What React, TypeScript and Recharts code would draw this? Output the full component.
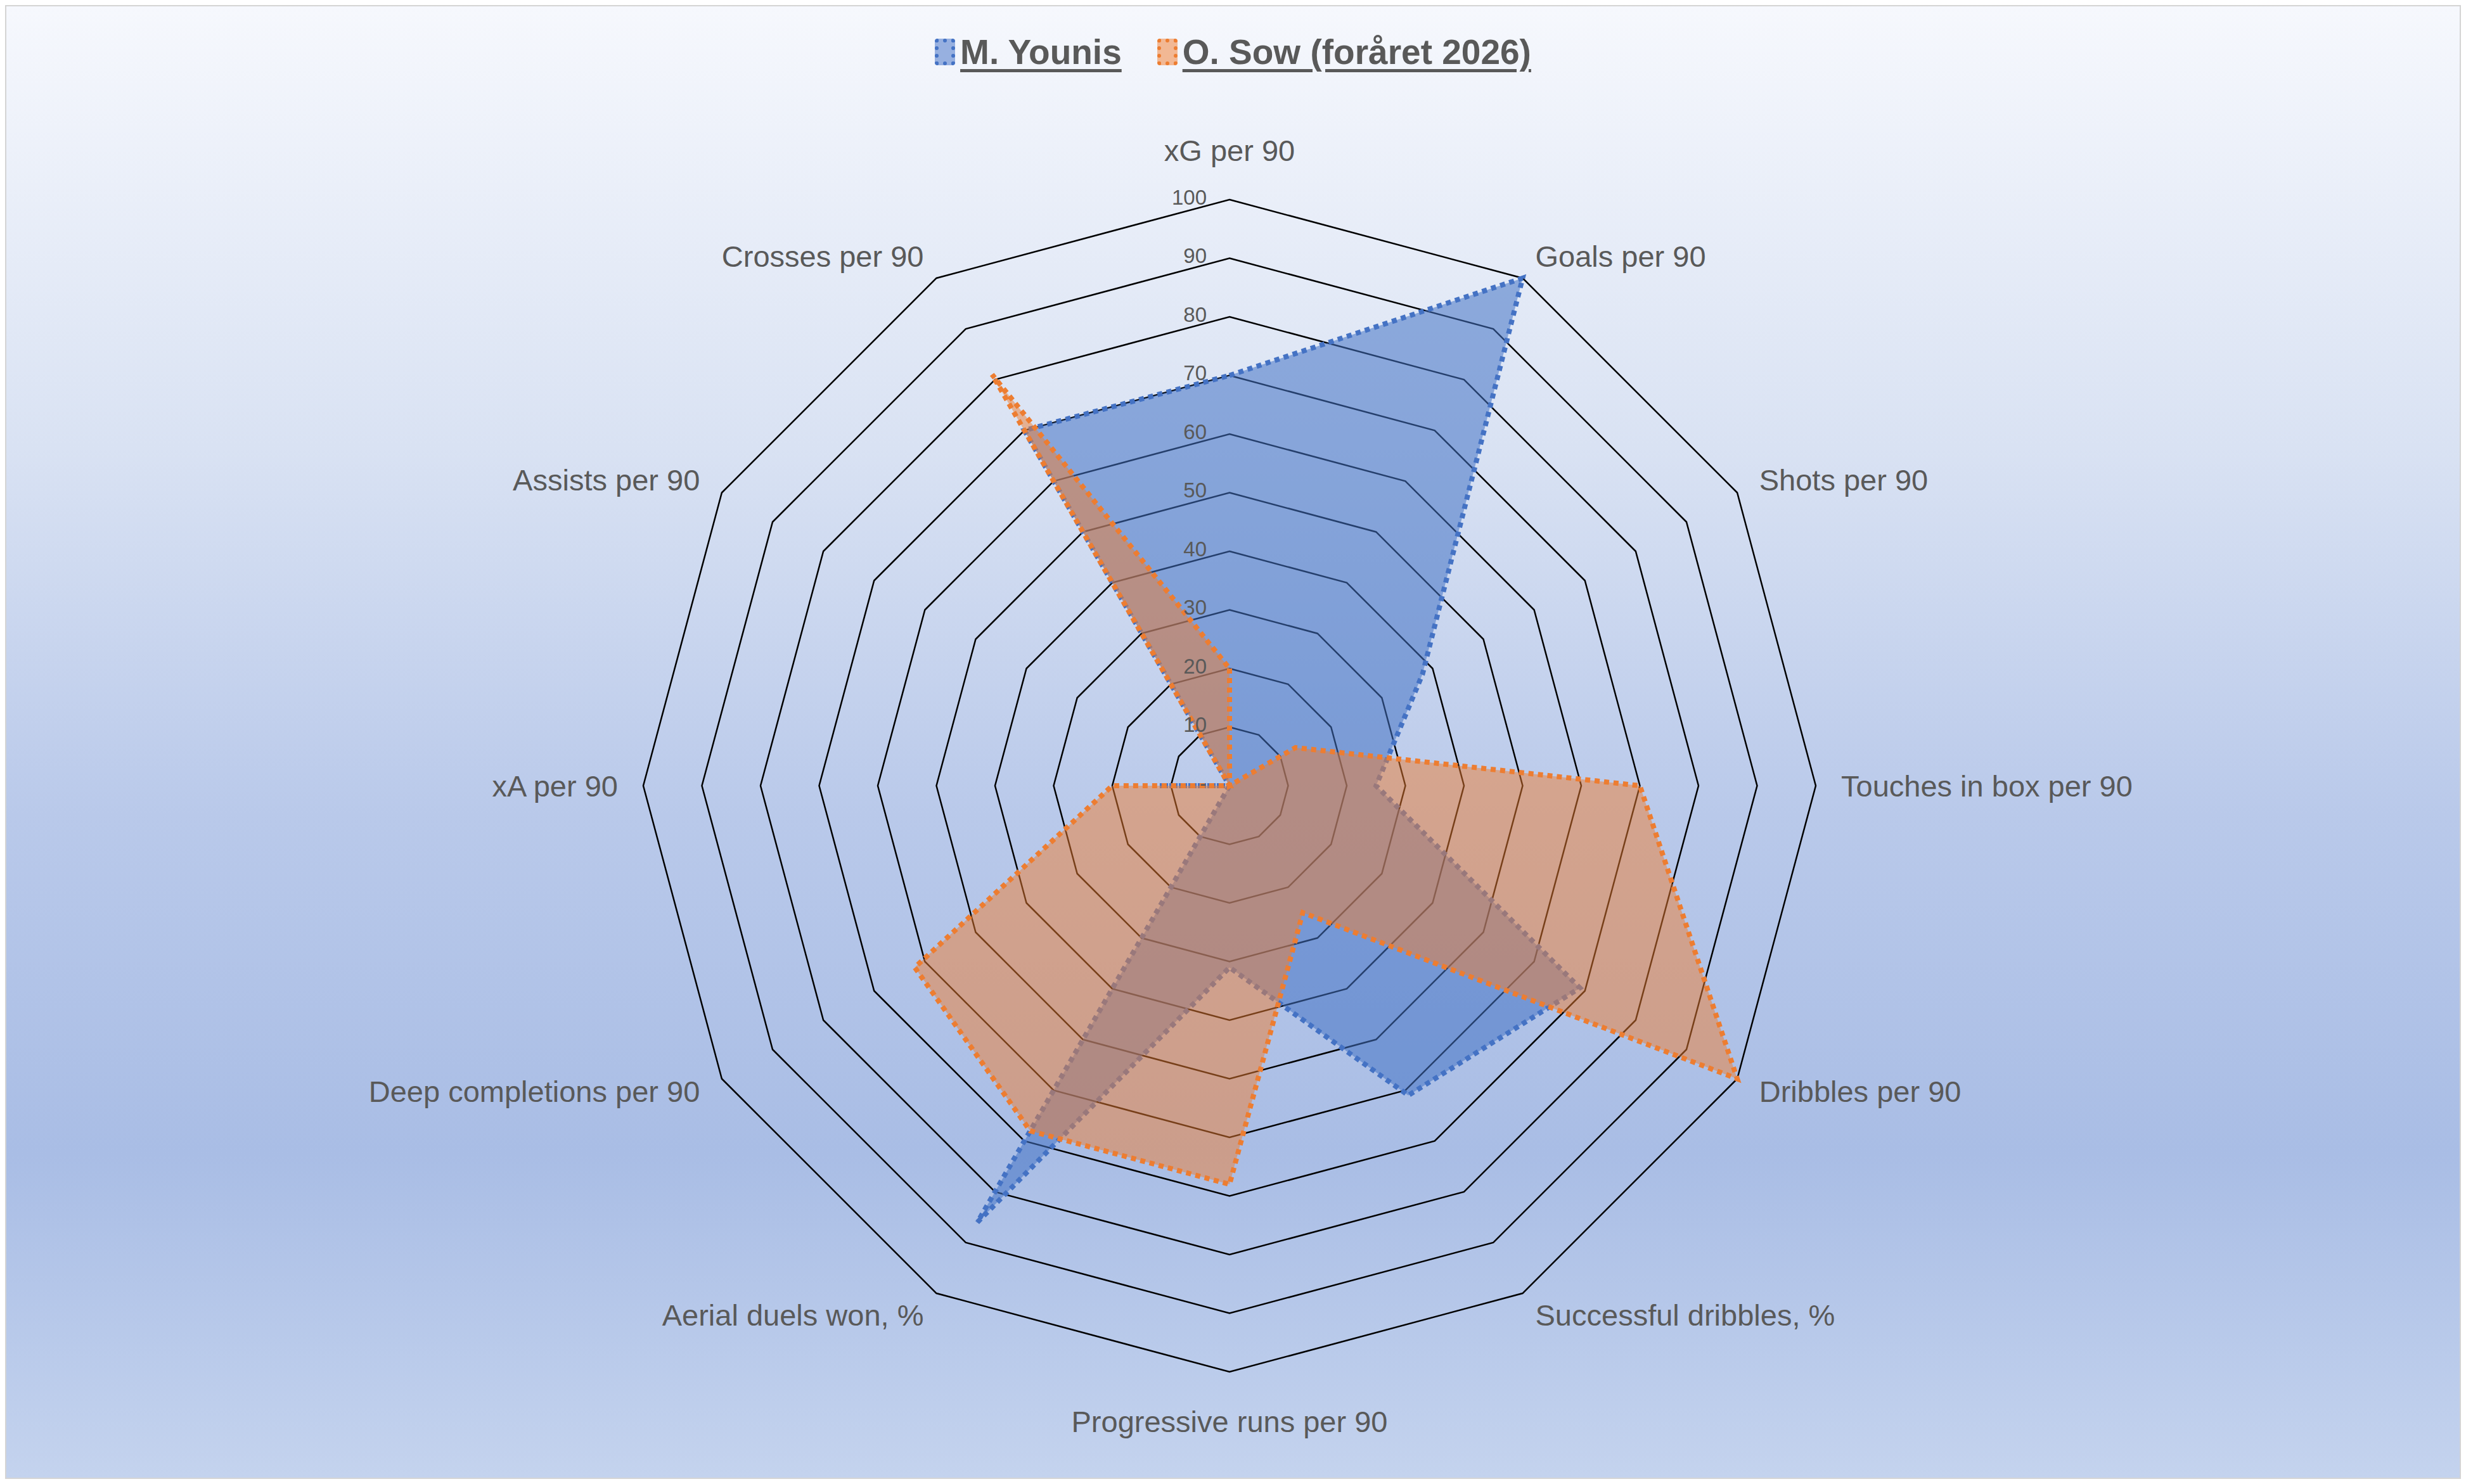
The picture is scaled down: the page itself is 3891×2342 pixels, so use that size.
import React from "react";
import { PolarAngleAxis, PolarGrid, PolarRadiusAxis, Radar, RadarChart, Legend } from "recharts";

const categories = [
  "xG per 90",
  "Goals per 90",
  "Shots per 90",
  "Touches in box per 90",
  "Dribbles per 90",
  "Successful dribbles, %",
  "Progressive runs per 90",
  "Aerial duels won, %",
  "Deep completions per 90",
  "xA per 90",
  "Assists per 90",
  "Crosses per 90",
];
const younis = [70, 100, 38, 25, 69, 61, 31, 86, 0, 12, 0, 70];
const sow = [20, 0, 13, 70, 100, 25, 68, 68, 62, 20, 0, 81];
const radiusTicks = [0, 10, 20, 30, 40, 50, 60, 70, 80, 90, 100];

const data = categories.map((c, i) => ({ category: c, younis: younis[i], sow: sow[i] }));

const W = 3871;
const H = 2322;
const CX = 1930;
const CY = 1230;
const R = 925;
const FONT = "'Liberation Sans', Arial, sans-serif";
const TEXT = "#595959";

function AngleTick(props: any) {
  const angle = props.payload.coordinate;
  const rad = (angle * Math.PI) / 180;
  const cos = Math.cos(rad);
  const sin = Math.sin(rad);
  const r = R + 40;
  let x = CX + r * cos;
  let y = CY - r * sin;
  let anchor = "middle";
  if (cos > 0.1) anchor = "start";
  else if (cos < -0.1) anchor = "end";
  if (Math.abs(cos) < 0.1) y += sin > 0 ? -38 : 38;
  return (
    <text x={x} y={y} textAnchor={anchor} dominantBaseline="central" fill={TEXT} fontSize={47} fontFamily={FONT}>
      {props.payload.value}
    </text>
  );
}

function RadiusTick(props: any) {
  const v = props.payload.value;
  return (
    <text x={CX - 36} y={props.y - 4} textAnchor="end" dominantBaseline="central" fill={TEXT} fontSize={33} fontFamily={FONT}>
      {v === 0 ? "-" : v}
    </text>
  );
}

function LegendContent() {
  const item = (color: string, fill: string, label: string) => (
    <span style={{ display: "inline-flex", alignItems: "center", margin: "0 28px" }}>
      <span
        style={{
          width: 20,
          height: 30,
          background: fill,
          border: `6px dotted ${color}`,
          borderRadius: 4,
          marginRight: 8,
        }}
      />
      <span style={{ textDecoration: "underline", textDecorationThickness: 5, textUnderlineOffset: 8 }}>{label}</span>
    </span>
  );
  return (
    <div style={{ textAlign: "center", fontFamily: FONT, fontWeight: "bold", fontSize: 55, color: TEXT }}>
      {item("#4472c4", "#97b0e0", "M. Younis")}
      {item("#ed7d31", "#f2b894", "O. Sow (foråret 2026)")}
    </div>
  );
}

export default function App() {
  return (
    <div
      style={{
        width: W,
        height: H,
        border: "2px solid #d4d4d4",
        background: "linear-gradient(to bottom, #f6f8fd 0%, #d9e2f3 30%, #b9c9ea 55%, #a9bde5 78%, #c4d3ee 100%)",
      }}
    >
      <RadarChart width={W} height={H} data={data} cx={CX} cy={CY} outerRadius={R} startAngle={90} endAngle={-270}>
        <Legend verticalAlign="top" content={<LegendContent />} wrapperStyle={{ top: 40 }} />
        <PolarGrid gridType="polygon" radialLines={false} stroke="#000" strokeWidth={2.5} polarRadius={radiusTicks.slice(1).map((t) => (t / 100) * R)} />
        <PolarAngleAxis dataKey="category" tick={<AngleTick />} axisLine={false} tickLine={false} />
        <PolarRadiusAxis angle={90} domain={[0, 100]} ticks={radiusTicks as any} tickCount={11} axisLine={false} tick={<RadiusTick />} />
        <Radar
          dataKey="younis"
          stroke="#4472c4"
          strokeWidth={8}
          strokeDasharray="8 7"
          fill="#4472c4"
          fillOpacity={0.55}
          isAnimationActive={false}
        />
        <Radar
          dataKey="sow"
          stroke="#ed7d31"
          strokeWidth={8}
          strokeDasharray="8 7"
          fill="#ed7d31"
          fillOpacity={0.5}
          isAnimationActive={false}
        />
      </RadarChart>
    </div>
  );
}
